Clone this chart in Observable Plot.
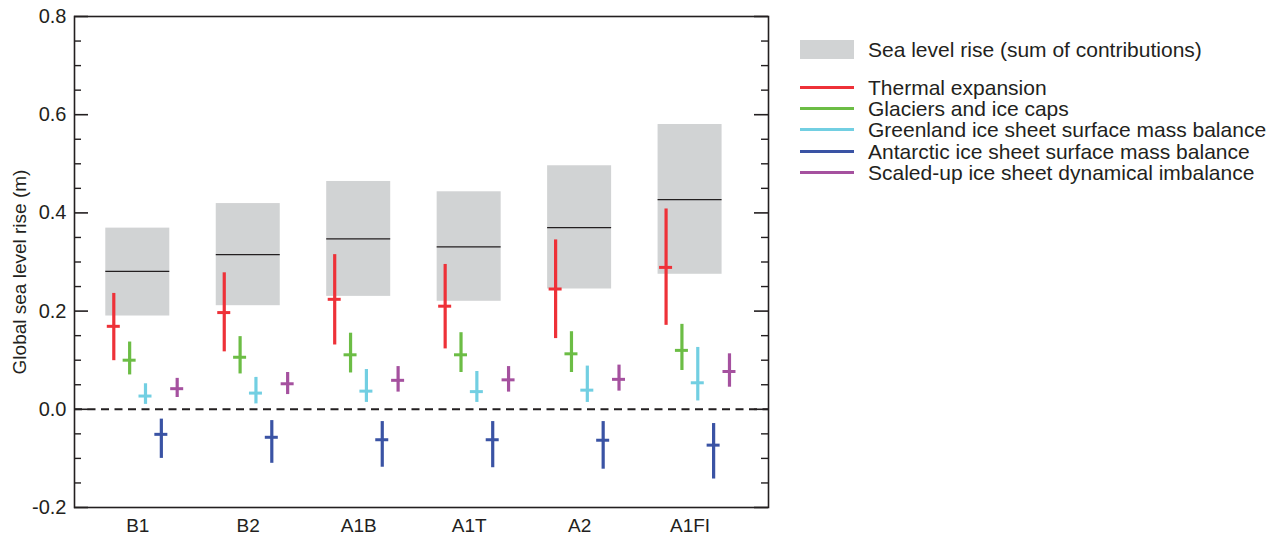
<!DOCTYPE html>
<html>
<head>
<meta charset="utf-8">
<script src="https://cdn.jsdelivr.net/npm/d3@7"></script>
<script src="https://cdn.jsdelivr.net/npm/@observablehq/plot@0.6"></script>
<style>
html, body { margin: 0; padding: 0; background: #fff; }
body { width: 1281px; height: 536px; overflow: hidden; position: relative;
  font-family: "Liberation Sans", Arial, Helvetica, sans-serif; color: #231f20; }
#chart { position: absolute; left: 0; top: 0; }
#legend { position: absolute; left: 800px; top: 0; width: 480px; font-size: 21px; }
#legend .box { position: absolute; left: 0; top: 40px; display: flex; align-items: center; height: 19px; white-space: nowrap; }
#legend .swatch { width: 54px; height: 19px; background: #d1d3d4; flex: none; }
#legend .lines { position: absolute; left: 0; top: 76.6px; }
#legend .row { display: flex; align-items: center; height: 21.35px; white-space: nowrap; }
#legend .line { width: 54px; height: 3px; flex: none; }
#legend .lab { margin-left: 14px; white-space: nowrap; line-height: 1; }
</style>
</head>
<body>
<div id="chart"></div>
<div id="legend"></div>
<script>
// ---- data ----
const scenarios = ["B1", "B2", "A1B", "A1T", "A2", "A1FI"];

const totalLow  = [0.190, 0.211, 0.230, 0.220, 0.245, 0.275];
const totalMid  = [0.281, 0.315, 0.347, 0.331, 0.370, 0.427];
const totalHigh = [0.369, 0.419, 0.464, 0.443, 0.496, 0.580];

const thermalLow  = [0.099, 0.117, 0.131, 0.123, 0.144, 0.171];
const thermalMid  = [0.169, 0.197, 0.224, 0.210, 0.245, 0.289];
const thermalHigh = [0.236, 0.278, 0.315, 0.295, 0.345, 0.408];

const glaciersLow  = [0.070, 0.072, 0.074, 0.075, 0.075, 0.079];
const glaciersMid  = [0.100, 0.106, 0.111, 0.111, 0.113, 0.120];
const glaciersHigh = [0.137, 0.148, 0.155, 0.156, 0.158, 0.173];

const greenlandLow  = [0.010, 0.011, 0.014, 0.014, 0.014, 0.017];
const greenlandMid  = [0.027, 0.033, 0.037, 0.036, 0.039, 0.054];
const greenlandHigh = [0.052, 0.065, 0.081, 0.077, 0.088, 0.126];

const antarcticLow  = [-0.100, -0.110, -0.118, -0.119, -0.122, -0.142];
const antarcticMid  = [-0.051, -0.057, -0.062, -0.062, -0.063, -0.073];
const antarcticHigh = [-0.020, -0.023, -0.025, -0.025, -0.025, -0.029];

const dynamicLow  = [0.024, 0.030, 0.035, 0.035, 0.037, 0.045];
const dynamicMid  = [0.042, 0.052, 0.059, 0.060, 0.061, 0.077];
const dynamicHigh = [0.063, 0.075, 0.087, 0.087, 0.090, 0.113];

const componentNames = [
  "Thermal expansion",
  "Glaciers and ice caps",
  "Greenland ice sheet surface mass balance",
  "Antarctic ice sheet surface mass balance",
  "Scaled-up ice sheet dynamical imbalance"
];
const totalName = "Sea level rise (sum of contributions)";
const yLabel = "Global sea level rise (m)";
const yMajorTicks = [-0.2, 0.0, 0.2, 0.4, 0.6, 0.8];
const yMinorTicks = [-0.15, -0.1, -0.05, 0.05, 0.1, 0.15, 0.25, 0.3, 0.35, 0.45, 0.5, 0.55, 0.65, 0.7, 0.75];

// ---- styles / layout ----
const colors = ["#ee3138", "#6cbd45", "#72cfe2", "#3a53a4", "#a5519f"];
const ink = "#231f20";
const W = 790, H = 536, mL = 74, mR = 22, mT = 16, mB = 29;
const frameW = W - mL - mR;
const step = 110.45;                 // px between scenarios
const compDx = [-24, -8.15, 7.7, 23.55, 39.4];
const boxHalf = 32 / step, crossHalf = 6.5 / step;

const lows = [thermalLow, glaciersLow, greenlandLow, antarcticLow, dynamicLow];
const mids = [thermalMid, glaciersMid, greenlandMid, antarcticMid, dynamicMid];
const highs = [thermalHigh, glaciersHigh, greenlandHigh, antarcticHigh, dynamicHigh];

const boxes = scenarios.map((s, i) => ({i, low: totalLow[i], mid: totalMid[i], high: totalHigh[i]}));

const compMarks = componentNames.flatMap((name, k) => {
  const rows = scenarios.map((s, i) => ({i, low: lows[k][i], mid: mids[k][i], high: highs[k][i]}));
  return [
    Plot.ruleX(rows, {x: "i", y1: "low", y2: "high", stroke: colors[k], strokeWidth: 3.2, dx: compDx[k]}),
    Plot.ruleY(rows, {x1: d => d.i - crossHalf, x2: d => d.i + crossHalf, y: "mid", stroke: colors[k], strokeWidth: 3, dx: compDx[k]})
  ];
});

const chart = Plot.plot({
  width: W, height: H,
  marginLeft: mL, marginRight: mR, marginTop: mT, marginBottom: mB,
  style: {fontFamily: '"Liberation Sans", Arial, Helvetica, sans-serif', fontSize: "20px", color: ink, background: "#fff", overflow: "visible"},
  x: {type: "linear", domain: [-0.573, 5.71], axis: null},
  y: {domain: [-0.2, 0.8], axis: null},
  marks: [
    Plot.rectY(boxes, {x1: d => d.i - boxHalf, x2: d => d.i + boxHalf, y1: "low", y2: "high", fill: "#d1d3d4"}),
    Plot.ruleY(boxes, {x1: d => d.i - boxHalf, x2: d => d.i + boxHalf, y: "mid", stroke: ink, strokeWidth: 1.2}),
    Plot.ruleY([0], {stroke: ink, strokeWidth: 2, strokeDasharray: "8,5.5"}),
    ...compMarks,
    // inward ticks, left and right
    Plot.ruleY(yMajorTicks, {stroke: ink, strokeWidth: 1.6, insetRight: frameW - 14}),
    Plot.ruleY(yMajorTicks, {stroke: ink, strokeWidth: 1.6, insetLeft: frameW - 14}),
    Plot.ruleY(yMinorTicks, {stroke: ink, strokeWidth: 1.4, insetRight: frameW - 7}),
    Plot.ruleY(yMinorTicks, {stroke: ink, strokeWidth: 1.4, insetLeft: frameW - 7}),
    Plot.frame({stroke: ink, strokeWidth: 1.6}),
    Plot.axisY({ticks: yMajorTicks, tickSize: 0, tickPadding: 8, tickFormat: d => d.toFixed(1), label: null, fill: ink, fontSize: 20}),
    Plot.axisX({ticks: d3.range(scenarios.length), tickSize: 0, tickPadding: 11, tickFormat: i => scenarios[i], label: null, fill: ink, fontSize: 19}),
    Plot.text([yLabel], {text: d => d, frameAnchor: "left", textAnchor: "middle", rotate: -90, lineAnchor: "top", dx: -62, dy: 10, fill: ink, fontSize: 19})
  ]
});
document.getElementById("chart").appendChild(chart);

// ---- legend (HTML, right of the plot) ----
const legend = d3.select("#legend");
const boxRow = legend.append("div").attr("class", "box");
boxRow.append("div").attr("class", "swatch");
boxRow.append("div").attr("class", "lab").text(totalName);
const lines = legend.append("div").attr("class", "lines");
componentNames.forEach((name, k) => {
  const r = lines.append("div").attr("class", "row");
  r.append("div").attr("class", "line").style("background", colors[k]);
  r.append("div").attr("class", "lab").text(name);
});
</script>
</body>
</html>
